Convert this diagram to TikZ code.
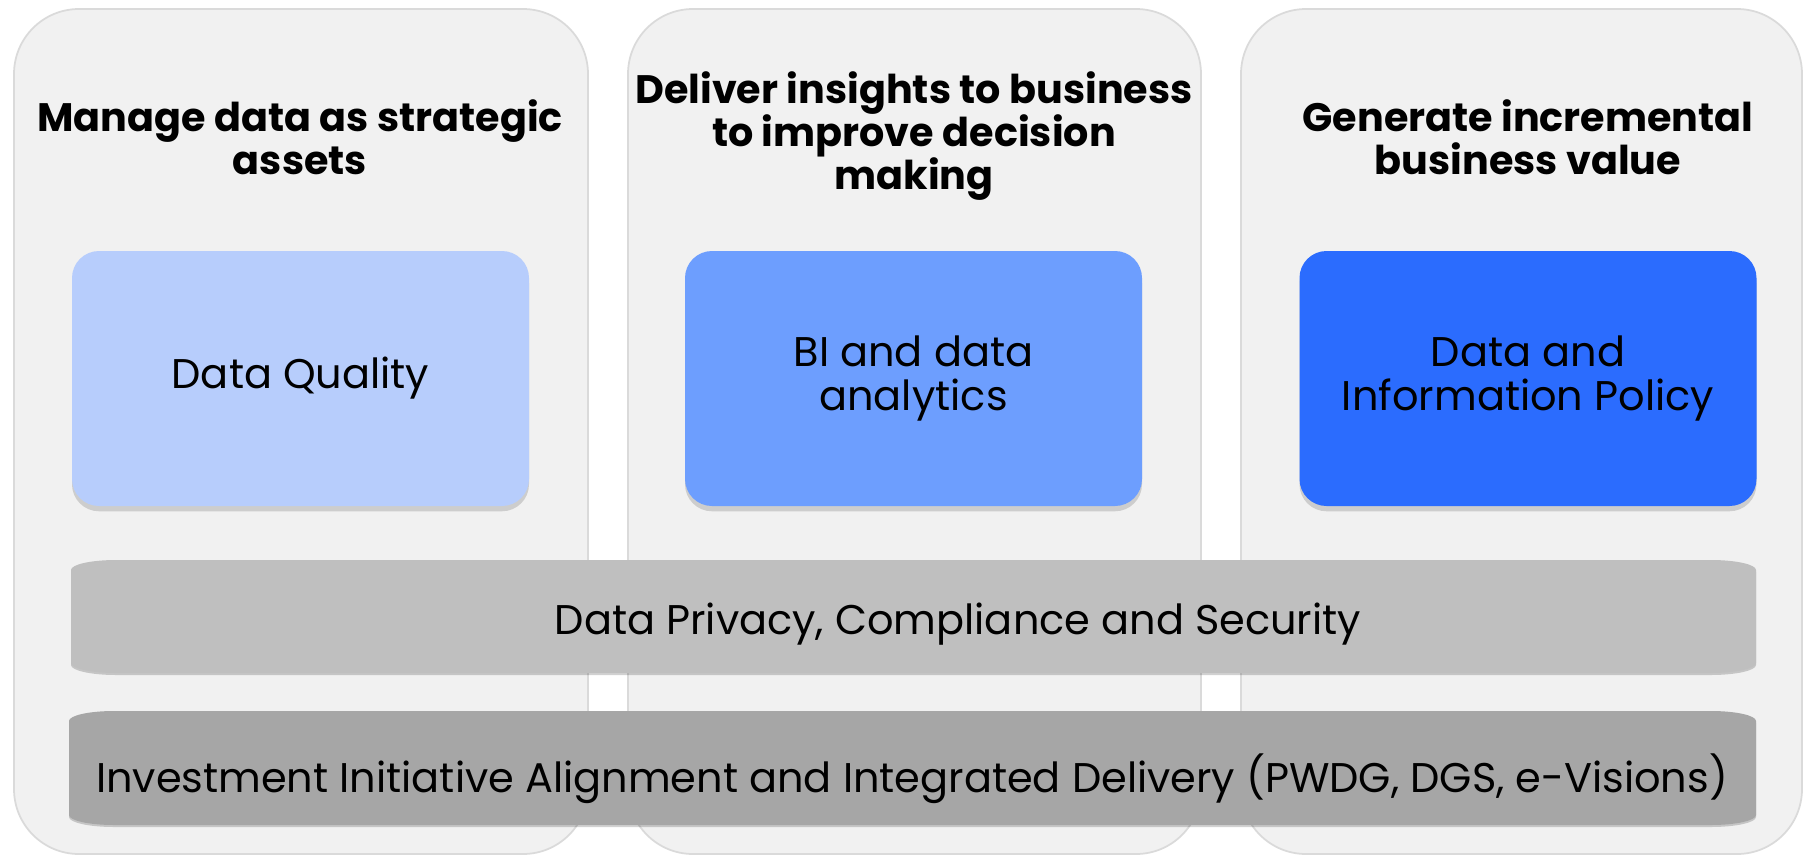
\documentclass[tikz,border=0pt]{standalone}
\usepackage{fontspec}
\setmainfont{Poppins}
\usetikzlibrary{shadows}

\definecolor{pillarbg}{HTML}{F1F1F1}
\definecolor{pillarline}{HTML}{DADADA}
\definecolor{tileA}{HTML}{B7CDFC}
\definecolor{tileB}{HTML}{6D9EFE}
\definecolor{tileC}{HTML}{2B6CFE}
\definecolor{bandA}{HTML}{BFBFBF}
\definecolor{bandB}{HTML}{A6A6A6}

\begin{document}
\begin{tikzpicture}[
  pillar/.style={fill=pillarbg,draw=pillarline,line width=0.5pt,rounded corners=0.65cm,minimum height=8.45cm},
  head/.style={font=\bfseries\fontsize{11.3}{12.3}\selectfont,align=center},
  tile/.style={rounded corners=0.27cm,minimum width=4.57cm,minimum height=2.55cm,align=center,
    font=\fontsize{11.8}{12.4}\selectfont,
    drop shadow={shadow xshift=0pt,shadow yshift=-1.5pt,opacity=0.15,fill=black}},
  bandtext/.style={font=\fontsize{11.8}{12.4}\selectfont}
]
\useasboundingbox (0,0) rectangle (18.04,-8.57);

% columns
\node[pillar,minimum width=5.74cm] (colA) at (3.01,-4.315) {};
\node[pillar,minimum width=5.73cm] (colB) at (9.145,-4.315) {};
\node[pillar,minimum width=5.61cm] (colC) at (15.215,-4.315) {};

% headings
\node[head] (headA) at (3.00,-1.37) {Manage data as strategic\\assets};
\node[head] (headB) at (9.14,-1.36) {Deliver insights to business\\to improve decision\\making};
\node[head] (headC) at (15.28,-1.37) {Generate incremental\\business value};

% tiles
\node[tile,fill=tileA] (quality) at (3.005,-3.785) {Data Quality};
\node[tile,fill=tileB] (analytics) at (9.135,-3.785) {BI and data\\analytics};
\node[tile,fill=tileC] (policy) at (15.28,-3.785) {Data and\\Information Policy};

% bands
\fill[black,opacity=0.18] (0.71,-5.72) arc[start angle=180,end angle=90,x radius=0.45,y radius=0.10]
  -- (17.11,-5.62) arc[start angle=90,end angle=0,x radius=0.45,y radius=0.10]
  -- (17.56,-6.65) arc[start angle=0,end angle=-90,x radius=0.45,y radius=0.10]
  -- (1.16,-6.75) arc[start angle=270,end angle=180,x radius=0.45,y radius=0.10] -- cycle;
\fill[bandA] (0.71,-5.70) arc[start angle=180,end angle=90,x radius=0.45,y radius=0.10]
  -- (17.11,-5.60) arc[start angle=90,end angle=0,x radius=0.45,y radius=0.10]
  -- (17.56,-6.63) arc[start angle=0,end angle=-90,x radius=0.45,y radius=0.10]
  -- (1.16,-6.73) arc[start angle=270,end angle=180,x radius=0.45,y radius=0.10] -- cycle;
\node[bandtext] (privacy) at (9.58,-6.24) {Data Privacy, Compliance and Security};

\fill[black,opacity=0.18] (0.69,-7.23) arc[start angle=180,end angle=90,x radius=0.45,y radius=0.10]
  -- (17.11,-7.13) arc[start angle=90,end angle=0,x radius=0.45,y radius=0.10]
  -- (17.56,-8.17) arc[start angle=0,end angle=-90,x radius=0.45,y radius=0.10]
  -- (1.14,-8.27) arc[start angle=270,end angle=180,x radius=0.45,y radius=0.10] -- cycle;
\fill[bandB] (0.69,-7.21) arc[start angle=180,end angle=90,x radius=0.45,y radius=0.10]
  -- (17.11,-7.11) arc[start angle=90,end angle=0,x radius=0.45,y radius=0.10]
  -- (17.56,-8.15) arc[start angle=0,end angle=-90,x radius=0.45,y radius=0.10]
  -- (1.14,-8.25) arc[start angle=270,end angle=180,x radius=0.45,y radius=0.10] -- cycle;
\node[bandtext] (delivery) at (9.12,-7.79) {Investment Initiative Alignment and Integrated Delivery (PWDG, DGS, e-Visions)};
\end{tikzpicture}
\end{document}
